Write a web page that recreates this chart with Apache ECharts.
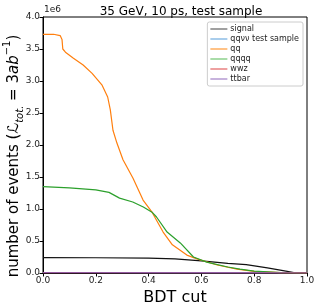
<!DOCTYPE html>
<html>
<head>
<meta charset="utf-8">
<script src="https://cdn.jsdelivr.net/npm/echarts@6/dist/echarts.min.js"></script>
<style>
  html, body { margin: 0; padding: 0; background: #fff; }
  #chart { width: 317px; height: 303px; }
</style>
</head>
<body>
<div id="chart"></div>
<script>
// BDT cut values and number of events
const qqCut = [0, 0.04, 0.065, 0.072, 0.075, 0.085, 0.114, 0.152, 0.186, 0.223, 0.245, 0.255, 0.265, 0.28, 0.303, 0.341, 0.379, 0.413, 0.455, 0.49, 0.545, 0.583, 0.66, 0.735, 0.8, 0.9, 1.0];
const qqEvents = [3730000, 3730000, 3710000, 3650000, 3500000, 3450000, 3360000, 3250000, 3120000, 2940000, 2750000, 2550000, 2230000, 2030000, 1770000, 1480000, 1140000, 950000, 640000, 440000, 280000, 220000, 125000, 60000, 25000, 5000, 0];

const qqqqCut = [0, 0.1, 0.2, 0.25, 0.29, 0.34, 0.38, 0.413, 0.43, 0.47, 0.52, 0.57, 0.62, 0.7, 0.746, 0.8, 0.9, 1.0];
const qqqqEvents = [1350000, 1330000, 1300000, 1260000, 1170000, 1110000, 1030000, 950000, 875000, 640000, 470000, 250000, 170000, 94000, 60000, 30000, 5000, 0];

const signalCut = [0, 0.2, 0.4, 0.5, 0.6, 0.7, 0.77, 0.85, 0.92, 0.96, 1.0];
const signalEvents = [240000, 238000, 232000, 220000, 190000, 150000, 130000, 80000, 30000, 0, 0];

const smallCut = [0, 0.2, 0.4, 0.6, 0.8, 1.0];
const qqvvEvents = [6000, 5500, 4500, 3000, 1000, 0];
const wwzEvents = [3000, 2800, 2300, 1600, 600, 0];
const ttbarEvents = [4000, 3600, 2800, 1500, 400, 0];

const xTicks = [0, 0.2, 0.4, 0.6, 0.8, 1.0];
const yTicks = [0, 500000, 1000000, 1500000, 2000000, 2500000, 3000000, 3500000, 4000000];

const pairs = (xs, ys) => xs.map((x, i) => [x, ys[i]]);

const chart = echarts.init(document.getElementById("chart"));

const line = (name, color, xs, ys, width) => ({
  name: name,
  type: "line",
  data: pairs(xs, ys),
  showSymbol: false,
  symbol: "none",
  lineStyle: { color: color, width: width || 1.2 },
  itemStyle: { color: color },
  animation: false,
});

const option = {
  animation: false,
  textStyle: { fontFamily: "DejaVu Sans" },
  title: {
    text: "35 GeV, 10 ps, test sample",
    left: 176,
    top: 1,
    textAlign: "center",
    textStyle: { fontSize: 12, fontWeight: "normal", color: "#000" },
  },
  grid: {
    left: 43,
    right: 10,
    top: 17,
    bottom: 30,
    containLabel: false,
    outerBoundsMode: "none",
    show: true,
    borderColor: "#000",
    borderWidth: 1,
    backgroundColor: "transparent",
  },
  legend: {
    orient: "vertical",
    right: 14,
    top: 22,
    padding: [3, 4, 3, 3],
    itemGap: 2,
    itemWidth: 17,
    itemHeight: 1.5,
    icon: "rect",
    backgroundColor: "#fff",
    borderColor: "#ccc",
    borderWidth: 1,
    borderRadius: 2,
    textStyle: { fontSize: 8, color: "#222", padding: [0, 0, 0, -2] },
    data: [
      { name: "signal", itemStyle: { color: "#808080" } },
      { name: "qqνν test sample", itemStyle: { color: "#8cbde6" } },
      { name: "qq", itemStyle: { color: "#ffae5e" } },
      { name: "qqqq", itemStyle: { color: "#8cd08c" } },
      { name: "wwz", itemStyle: { color: "#e88080" } },
      { name: "ttbar", itemStyle: { color: "#b49ad2" } },
    ],
  },
  xAxis: {
    type: "value",
    min: 0,
    max: 1,
    interval: 0.2,
    name: "BDT cut",
    nameLocation: "middle",
    nameGap: 16,
    nameTextStyle: { fontSize: 16, color: "#000" },
    axisLine: { lineStyle: { color: "#000" } },
    axisTick: { show: true, length: 3.5, lineStyle: { color: "#000" } },
    axisLabel: { fontSize: 9, color: "#222", margin: 3, formatter: (v) => v.toFixed(1) },
    splitLine: { show: false },
  },
  yAxis: {
    type: "value",
    min: 0,
    max: 4000000,
    interval: 500000,
    axisLine: { show: true, lineStyle: { color: "#000" } },
    axisTick: { show: true, length: 3.5, lineStyle: { color: "#000" } },
    axisLabel: { fontSize: 9, color: "#222", margin: 3, formatter: (v) => (v / 1e6).toFixed(1) },
    splitLine: { show: false },
  },
  graphic: [
    {
      type: "text",
      left: 44,
      top: 5,
      style: { text: "1e6", fontSize: 9, fill: "#222", fontFamily: "DejaVu Sans" },
    },
    {
      // y axis title, rotated
      type: "text",
      x: 14,
      y: 156,
      rotation: Math.PI / 2,
      style: {
        text: "{a|number of events (}{i|ℒ}{s|tot.}{a| = 3}{i|ab}{p|−1}{a|)}",
        align: "center",
        verticalAlign: "middle",
        fontFamily: "DejaVu Sans",
        rich: {
          a: { fontSize: 15, fill: "#000", lineHeight: 20, fontFamily: "DejaVu Sans" },
          i: { fontSize: 15, fill: "#000", fontStyle: "italic", lineHeight: 20, fontFamily: "DejaVu Sans" },
          s: { fontSize: 10, fill: "#000", fontStyle: "italic", verticalAlign: "bottom", lineHeight: 15, fontFamily: "DejaVu Sans" },
          p: { fontSize: 10, fill: "#000", verticalAlign: "top", lineHeight: 23, fontFamily: "DejaVu Sans" },
        },
      },
    },
  ],
  series: [
    line("signal", "#111111", signalCut, signalEvents, 1.2),
    line("qqνν test sample", "#1f77b4", smallCut, qqvvEvents, 1),
    line("qq", "#ff7f0e", qqCut, qqEvents, 1.2),
    line("qqqq", "#2ca02c", qqqqCut, qqqqEvents, 1.2),
    line("wwz", "#d62728", smallCut, wwzEvents, 1),
    line("ttbar", "#9467bd", smallCut, ttbarEvents, 1.2),
  ],
};

chart.setOption(option);
</script>
</body>
</html>
